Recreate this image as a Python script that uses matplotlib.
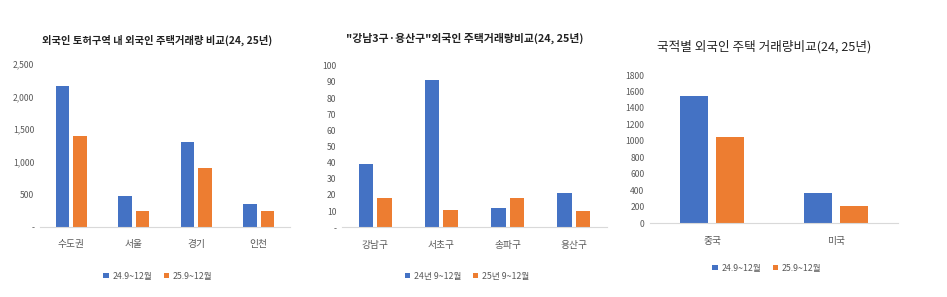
import matplotlib
matplotlib.use("Agg")
import matplotlib.pyplot as plt
import numpy as np

plt.rcParams['font.family'] = ['Noto Sans CJK KR', 'DejaVu Sans']

# Chart 1
c1_categories = ['수도권', '서울', '경기', '인천']
c1_series_names = ['24.9~12월', '25.9~12월']
c1_2024 = [2160, 480, 1300, 357]
c1_2025 = [1395, 240, 905, 240]
c1_yticks = [0, 500, 1000, 1500, 2000, 2500]
c1_yticklabels = ['-', '500', '1,000', '1,500', '2,000', '2,500']
c1_title = '외국인 토허구역 내 외국인 주택거래량 비교(24, 25년)'

# Chart 2
c2_categories = ['강남구', '서초구', '송파구', '용산구']
c2_series_names = ['24년 9~12월', '25년 9~12월']
c2_2024 = [39, 91, 12, 21]
c2_2025 = [18, 11, 18, 10]
c2_yticks = [0, 10, 20, 30, 40, 50, 60, 70, 80, 90, 100]
c2_yticklabels = ['-', '10', '20', '30', '40', '50', '60', '70', '80', '90', '100']
c2_title = '"강남3구·용산구"외국인 주택거래량비교(24, 25년)'

# Chart 3
c3_categories = ['중국', '미국']
c3_series_names = ['24.9~12월', '25.9~12월']
c3_2024 = [1550, 372]
c3_2025 = [1042, 206]
c3_yticks = [0, 200, 400, 600, 800, 1000, 1200, 1400, 1600, 1800]
c3_yticklabels = [str(v) for v in c3_yticks]
c3_title = '국적별 외국인 주택 거래량비교(24, 25년)'

BLUE = '#4472C4'
ORANGE = '#ED7D31'
TICK = '#595959'
W, H = 947, 297

fig = plt.figure(figsize=(W / 100, H / 100), dpi=100)
fig.patch.set_facecolor('white')


def px_axes(x0, x1, ytop, ybot):
    return fig.add_axes([x0 / W, 1 - ybot / H, (x1 - x0) / W, (ybot - ytop) / H])


def draw(ax, cats, s1, s2, names, yticks, yticklabels, ymax, width, off,
         title, tx, ty, tweight, tsize, lx, ly):
    x = np.arange(len(cats))
    ax.bar(x - off, s1, width, color=BLUE, label=names[0])
    ax.bar(x + off, s2, width, color=ORANGE, label=names[1])
    ax.set_xlim(-0.5, len(cats) - 0.5)
    ax.set_ylim(0, ymax)
    ax.set_yticks(yticks)
    ax.set_yticklabels(yticklabels)
    ax.set_xticks(x)
    ax.set_xticklabels(cats)
    for s in ['top', 'right', 'left']:
        ax.spines[s].set_visible(False)
    ax.spines['bottom'].set_color('#D9D9D9')
    ax.spines['bottom'].set_linewidth(0.8)
    ax.tick_params(axis='both', length=0, colors=TICK, labelsize=6.2)
    ax.tick_params(axis='x', pad=9, labelsize=7)
    ax.tick_params(axis='y', pad=4)
    fig.text(tx / W, 1 - ty / H, title, ha='center', va='center',
             fontsize=tsize, fontweight=tweight, color='#222222')
    leg = ax.legend(loc='center', bbox_to_anchor=(lx / W, 1 - ly / H),
                    bbox_transform=fig.transFigure, ncol=2, frameon=False,
                    fontsize=6.3, handlelength=0.6, handleheight=0.6,
                    handletextpad=0.4, columnspacing=1.4)
    for t in leg.get_texts():
        t.set_color(TICK)


ax1 = px_axes(40, 290, 64, 227)
draw(ax1, c1_categories, c1_2024, c1_2025, c1_series_names, c1_yticks,
     c1_yticklabels, 2500, 0.22, 0.14, c1_title, 157, 40, 'bold', 7.4, 158, 276)

ax2 = px_axes(342, 607, 65.7, 227.3)
draw(ax2, c2_categories, c2_2024, c2_2025, c2_series_names, c2_yticks,
     c2_yticklabels, 100, 0.22, 0.139, c2_title, 465, 38, 'bold', 7.8, 467, 276)

ax3 = px_axes(650, 898, 75, 223.3)
draw(ax3, c3_categories, c3_2024, c3_2025, c3_series_names, c3_yticks,
     c3_yticklabels, 1800, 0.222, 0.144, c3_title, 764, 47, 'normal', 9.1, 767, 268)

fig.savefig('out.png', dpi=100, facecolor='white')
